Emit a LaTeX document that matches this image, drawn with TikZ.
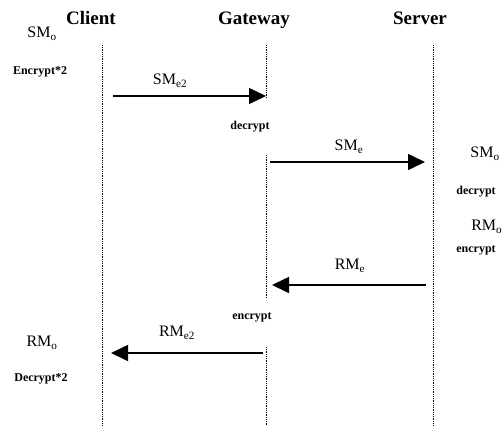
\documentclass[tikz,border=0pt]{standalone}
\usepackage{fontspec}
\setmainfont{Liberation Serif}
\usetikzlibrary{arrows.meta,positioning}
\tikzset{
	>={Triangle[length=17pt,width=16pt]},
	actor/.style={
		font=\fontsize{19}{21}\selectfont\bfseries,
		inner sep=0pt},
	lifeline/.style={draw, line width=0.9pt, dash pattern=on 0.9pt off 0.9pt},
	message/.style={draw, line width=1.6pt, ->},
	msglabel/.style={font=\fontsize{16}{18}\selectfont, inner sep=0pt},
	note/.style={font=\fontsize{12}{14}\selectfont\bfseries, inner sep=0pt},
}

\begin{document}
\begin{tikzpicture}[x=1pt, y=-1pt]
	\useasboundingbox (0,0) rectangle (503,426);
	% the three parties
	\node[actor] (client)  at (91,18)  {Client};
	\node[actor] (gateway) at (254,20) {Gateway};
	\node[actor] (server)  at (420,18) {Server};

	% lifelines
	\coordinate (c-top) at (102,45);
	\coordinate (c-bot) at (102,426);
	\coordinate (g-top) at (266,45);
	\coordinate (g-a)   at (266,98);
	\coordinate (g-b)   at (266,155);
	\coordinate (g-c)   at (266,298);
	\coordinate (g-d)   at (266,347);
	\coordinate (g-bot) at (266,426);
	\coordinate (s-top) at (433,45);
	\coordinate (s-bot) at (433,426);
	\draw[lifeline] (c-top) -- (c-bot);
	\draw[lifeline] (g-top) -- (g-a);
	\draw[lifeline] (g-b) -- (g-c);
	\draw[lifeline] (g-d) -- (g-bot);
	\draw[lifeline] (s-top) -- (s-bot);

	% client side
	\node[msglabel] (c-smo) at (42,34)  {SM\textsubscript{o}};
	\node[note]     (c-enc) at (40,72)  {Encrypt*2};
	\node[msglabel] (c-rmo) at (42,343) {RM\textsubscript{o}};
	\node[note]     (c-dec) at (41,379) {Decrypt*2};

	% gateway side
	\node[note] (g-dec) at (250,127) {decrypt};
	\node[note] (g-enc) at (252,317) {encrypt};

	% server side
	\node[msglabel] (s-smo) at (485,154) {SM\textsubscript{o}};
	\node[note]     (s-dec) at (476,192) {decrypt};
	\node[msglabel, anchor=east] (s-rmo) at (502.5,227) {RM\textsubscript{o}};
	\node[note]     (s-enc) at (476,250) {encrypt};

	% messages
	\coordinate (m1-from) at (113,96);  \coordinate (m1-to) at (266,96);
	\coordinate (m2-from) at (270,162); \coordinate (m2-to) at (425,162);
	\coordinate (m3-from) at (426,285); \coordinate (m3-to) at (272,285);
	\coordinate (m4-from) at (263,353); \coordinate (m4-to) at (111,353);
	\draw[message] (m1-from) -- (m1-to);
	\draw[message] (m2-from) -- (m2-to);
	\draw[message] (m3-from) -- (m3-to);
	\draw[message] (m4-from) -- (m4-to);
	\node[msglabel] (sme2) at (170,81)  {SM\textsubscript{e2}};
	\node[msglabel] (sme)  at (349,147) {SM\textsubscript{e}};
	\node[msglabel] (rme)  at (350,266) {RM\textsubscript{e}};
	\node[msglabel] (rme2) at (177,333) {RM\textsubscript{e2}};
\end{tikzpicture}
\end{document}
